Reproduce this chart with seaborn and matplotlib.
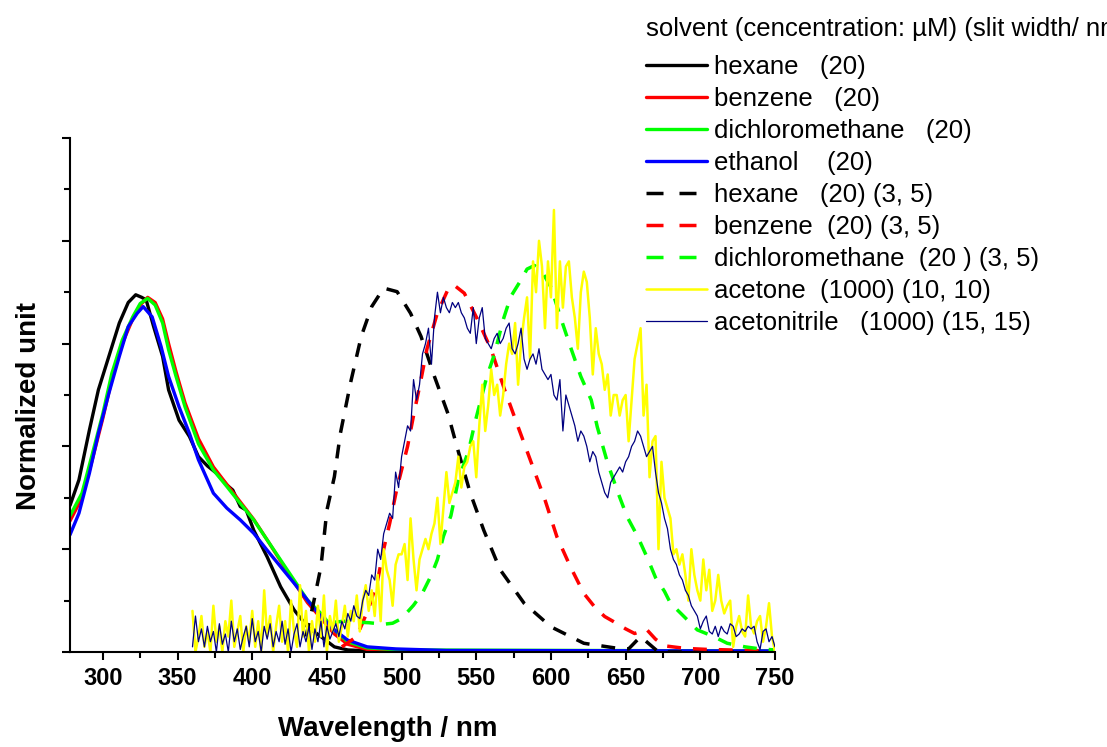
import numpy as np
import matplotlib
matplotlib.use('Agg')
import matplotlib.pyplot as plt
from matplotlib import font_manager
from matplotlib.ticker import MultipleLocator
import seaborn as sns

# excitation-like spectra (solid, thick)
hexane_x = [278, 284, 291, 297, 304, 311, 317, 322, 326, 329, 334, 340, 344, 351, 358, 364, 370, 376,
            383, 387, 392, 396, 401, 410, 419, 428, 437, 446, 455, 464, 480, 520, 750]
hexane_y = [0.285, 0.335, 0.432, 0.51, 0.575, 0.64, 0.68, 0.695, 0.69, 0.685, 0.633, 0.575, 0.51, 0.451,
            0.419, 0.38, 0.362, 0.348, 0.325, 0.315, 0.283, 0.276, 0.237, 0.185, 0.127, 0.082, 0.049,
            0.03, 0.01, 0.004, 0.002, 0.001, 0.001]

benzene_x = [278, 286, 293, 300, 306, 313, 320, 325, 330, 335, 340, 344, 349, 355, 364, 374, 383, 392,
             401, 410, 419, 428, 437, 446, 455, 464, 477, 500, 750]
benzene_y = [0.255, 0.3, 0.375, 0.455, 0.53, 0.6, 0.648, 0.675, 0.69, 0.68, 0.648, 0.6, 0.545, 0.485,
             0.415, 0.36, 0.326, 0.292, 0.258, 0.218, 0.177, 0.136, 0.096, 0.066, 0.035, 0.015, 0.005,
             0.002, 0.001]

dcm_x = [278, 286, 293, 300, 306, 313, 320, 325, 330, 335, 340, 344, 349, 355, 364, 374, 383, 392, 401,
         410, 419, 428, 437, 446, 455, 464, 477, 500, 750]
dcm_y = [0.265, 0.309, 0.386, 0.464, 0.542, 0.607, 0.652, 0.678, 0.688, 0.675, 0.64, 0.588, 0.536, 0.477,
         0.405, 0.354, 0.322, 0.289, 0.257, 0.218, 0.179, 0.14, 0.101, 0.075, 0.043, 0.02, 0.008, 0.004,
         0.002]

ethanol_x = [278, 284, 291, 297, 304, 311, 317, 323, 327, 333, 339, 344, 351, 358, 364, 374, 383, 392,
             401, 410, 419, 428, 437, 446, 455, 464, 477, 496, 530, 750]
ethanol_y = [0.228, 0.27, 0.348, 0.425, 0.503, 0.575, 0.633, 0.659, 0.672, 0.652, 0.594, 0.536, 0.477,
             0.425, 0.374, 0.309, 0.28, 0.257, 0.231, 0.198, 0.166, 0.134, 0.101, 0.069, 0.043, 0.023,
             0.01, 0.006, 0.003, 0.002]

# emission spectra (dashed)
hexane_em_x = [436, 441, 446, 450, 455, 459, 466, 473, 480, 488, 497, 506, 513, 522, 531, 537, 546, 555,
               566, 582, 600, 622, 645, 652, 660, 672, 750]
hexane_em_y = [0.03, 0.095, 0.166, 0.276, 0.341, 0.425, 0.526, 0.614, 0.672, 0.708, 0.701, 0.659, 0.614,
               0.536, 0.464, 0.4, 0.309, 0.237, 0.16, 0.095, 0.049, 0.017, 0.007, 0.006, 0.03, 0.0, 0.0]

benzene_em_x = [460, 470, 478, 484, 488, 492, 497, 504, 508, 513, 517, 524, 531, 535, 542, 551, 560, 569,
                578, 587, 596, 604, 613, 622, 630, 636, 642, 650, 656, 664, 670, 676, 690, 705, 750]
benzene_em_y = [0.01, 0.03, 0.085, 0.14, 0.2, 0.25, 0.32, 0.4, 0.46, 0.53, 0.59, 0.66, 0.705, 0.714,
                0.698, 0.646, 0.588, 0.51, 0.438, 0.367, 0.296, 0.224, 0.166, 0.114, 0.085, 0.069, 0.059,
                0.045, 0.036, 0.044, 0.025, 0.012, 0.007, 0.005, 0.002]

dcm_em_x = [455, 462, 470, 478, 488, 494, 500, 508, 514, 520, 524, 528, 533, 538, 545, 549, 553, 557, 562,
            568, 573, 580, 584, 589, 594, 600, 607, 613, 620, 627, 631, 638, 645, 651, 658, 665, 670, 676,
            680, 687, 698, 709, 718, 730, 740, 750]
dcm_em_y = [0.058, 0.06, 0.058, 0.057, 0.054, 0.056, 0.065, 0.091, 0.115, 0.15, 0.18, 0.225, 0.265, 0.335,
            0.393, 0.445, 0.49, 0.535, 0.578, 0.646, 0.691, 0.724, 0.745, 0.752, 0.74, 0.71, 0.646, 0.594,
            0.536, 0.49, 0.438, 0.367, 0.309, 0.263, 0.225, 0.18, 0.145, 0.118, 0.095, 0.075, 0.043, 0.03,
            0.017, 0.01, 0.006, 0.004]

# noisy spectra, read every 2 nm from 360 to 750
noisy_wl = np.arange(360, 751, 2)
acetone_y = [
    0.08, 0.0, 0.03, 0.07, 0.01, 0.04, 0.0, 0.09, 0.02, 0.05,
    0.0, 0.06, 0.03, 0.1, 0.01, 0.04, 0.07, 0.0, 0.05, 0.02,
    0.08, 0.01, 0.06, 0.0, 0.12, 0.03, 0.07, 0.0, 0.05, 0.09,
    0.02, 0.06, 0.0, 0.1, 0.04, 0.01, 0.13, 0.03, 0.08, 0.0,
    0.06, 0.02, 0.09, 0.03, 0.11, 0.0, 0.07, 0.04, 0.1, 0.02,
    0.05, 0.09, 0.03, 0.08, 0.06, 0.11, 0.04, 0.1, 0.13, 0.08,
    0.12, 0.07, 0.15, 0.06, 0.2, 0.16, 0.14, 0.09, 0.17, 0.19,
    0.19, 0.21, 0.14, 0.26, 0.18, 0.12, 0.18, 0.2, 0.22, 0.2,
    0.23, 0.25, 0.3, 0.21, 0.28, 0.35, 0.29, 0.31, 0.33, 0.38,
    0.32, 0.36, 0.37, 0.4, 0.41, 0.34, 0.44, 0.52, 0.43, 0.48,
    0.55, 0.5, 0.52, 0.46, 0.5, 0.56, 0.6, 0.58, 0.64, 0.52,
    0.6, 0.65, 0.69, 0.57, 0.76, 0.7, 0.8, 0.75, 0.63, 0.76,
    0.69, 0.86, 0.63, 0.76, 0.67, 0.75, 0.76, 0.69, 0.65, 0.59,
    0.7, 0.74, 0.72, 0.65, 0.54, 0.63, 0.58, 0.56, 0.51, 0.54,
    0.46, 0.5, 0.5, 0.46, 0.49, 0.5, 0.41, 0.49, 0.57, 0.6,
    0.63, 0.46, 0.52, 0.34, 0.41, 0.42, 0.2, 0.37, 0.3, 0.28,
    0.26, 0.19, 0.2, 0.17, 0.19, 0.15, 0.1, 0.2, 0.15, 0.12,
    0.1, 0.18, 0.12, 0.16, 0.08, 0.1, 0.15, 0.1, 0.075, 0.09,
    0.1, 0.01, 0.05, 0.07, 0.04, 0.03, 0.11, 0.05, 0.036, 0.06,
    0.07, 0.02, 0.05, 0.095, 0.03, 0.0,
]
acetonitrile_y = [
    0.01, 0.07, 0.02, 0.045, 0.01, 0.05, 0.02, 0.04, 0.0, 0.055,
    0.015, 0.035, 0.0, 0.06, 0.02, 0.045, 0.005, 0.03, 0.05, 0.01,
    0.065, 0.02, 0.04, 0.0, 0.05, 0.025, 0.055, 0.01, 0.04, 0.02,
    0.06, 0.015, 0.045, 0.0, 0.035, 0.055, 0.01, 0.04, 0.02, 0.05,
    0.005, 0.045, 0.02, 0.06, 0.01, 0.05, 0.025, 0.04, 0.055, 0.03,
    0.06, 0.045, 0.075, 0.06, 0.09, 0.07, 0.065, 0.1, 0.12, 0.11,
    0.15, 0.14, 0.2, 0.18, 0.23, 0.25, 0.27, 0.26, 0.35, 0.32,
    0.38, 0.41, 0.44, 0.43, 0.53, 0.49, 0.52, 0.58, 0.6, 0.63,
    0.56, 0.65, 0.7, 0.66, 0.69, 0.67, 0.66, 0.68, 0.67, 0.68,
    0.66, 0.65, 0.63, 0.62, 0.67, 0.6, 0.65, 0.67, 0.61, 0.6,
    0.59, 0.61, 0.62, 0.6, 0.61, 0.63, 0.64, 0.59, 0.58, 0.6,
    0.63, 0.57, 0.55, 0.57, 0.58, 0.56, 0.59, 0.55, 0.54, 0.53,
    0.54, 0.5, 0.49, 0.53, 0.43, 0.5, 0.48, 0.46, 0.44, 0.41,
    0.43, 0.42, 0.4, 0.37, 0.39, 0.38, 0.35, 0.33, 0.31, 0.3,
    0.33, 0.34, 0.35, 0.36, 0.35, 0.37, 0.38, 0.4, 0.41, 0.43,
    0.42, 0.4, 0.38, 0.39, 0.4, 0.35, 0.31, 0.29, 0.26, 0.24,
    0.2, 0.18, 0.17, 0.15, 0.14, 0.12, 0.11, 0.09, 0.08, 0.07,
    0.045, 0.06, 0.07, 0.04, 0.035, 0.05, 0.03, 0.05, 0.04, 0.035,
    0.055, 0.05, 0.03, 0.035, 0.045, 0.04, 0.05, 0.045, 0.05, 0.02,
    0.005, 0.04, 0.045, 0.02, 0.03, 0.01,
]

labels = ['hexane   (20)', 'benzene   (20)', 'dichloromethane   (20)', 'ethanol    (20)',
          'hexane   (20) (3, 5)', 'benzene  (20) (3, 5)', 'dichloromethane  (20 ) (3, 5)',
          'acetone  (1000) (10, 10)', 'acetonitrile   (1000) (15, 15)']
legend_title = 'solvent (cencentration: \u00b5M) (slit width/ nm)'

sns.set_style('ticks')
plt.rcParams['font.family'] = ['Liberation Sans', 'DejaVu Sans']
plt.rcParams['text.color'] = 'black'
plt.rcParams['axes.labelcolor'] = 'black'
plt.rcParams['xtick.color'] = 'black'
plt.rcParams['ytick.color'] = 'black'

names = {f.name for f in font_manager.fontManager.ttflist}
if 'Liberation Sans Narrow' in names:
    label_font, label_size = 'Liberation Sans Narrow', 24
else:
    label_font, label_size = 'Liberation Sans', 20

fig = plt.figure(figsize=(11.07, 7.47), dpi=100)
ax = fig.add_axes([70 / 1107, 95 / 747, 705 / 1107, 514 / 747])

dash = (0, (4.0, 3.45))
series = [
    (hexane_x, hexane_y, 'black', 2.4, '-'),
    (benzene_x, benzene_y, 'red', 2.4, '-'),
    (dcm_x, dcm_y, '#00ff00', 2.4, '-'),
    (ethanol_x, ethanol_y, 'blue', 2.4, '-'),
    (hexane_em_x, hexane_em_y, 'black', 2.5, dash),
    (benzene_em_x, benzene_em_y, 'red', 2.5, dash),
    (dcm_em_x, dcm_em_y, '#00ff00', 2.5, dash),
    (noisy_wl, acetone_y, '#ffff00', 1.8, '-'),
    (noisy_wl, acetonitrile_y, '#000080', 0.9, '-'),
]
for (x, y, c, lw, ls), lab in zip(series, labels):
    sns.lineplot(x=np.asarray(x), y=np.asarray(y), ax=ax, color=c, linewidth=lw,
                 linestyle=ls, label=lab, estimator=None, sort=False)

handles, labs = ax.get_legend_handles_labels()
if ax.get_legend() is not None:
    ax.get_legend().remove()

ax.set_xlim(278, 750)
ax.set_ylim(0, 1)
ax.xaxis.set_major_locator(MultipleLocator(50))
ax.xaxis.set_minor_locator(MultipleLocator(25))
ax.yaxis.set_major_locator(MultipleLocator(0.2))
ax.yaxis.set_minor_locator(MultipleLocator(0.1))
ax.tick_params(which='major', direction='out', length=6, width=1.5, colors='black',
               labelsize=17, pad=5)
ax.tick_params(which='minor', direction='out', length=4, width=1.5, colors='black')
ax.tick_params(axis='y', which='both', labelleft=False)
for t in ax.get_xticklabels():
    t.set_fontweight('bold')
for side in ['top', 'right']:
    ax.spines[side].set_visible(False)
for side in ['left', 'bottom']:
    ax.spines[side].set_linewidth(1.5)
    ax.spines[side].set_color('black')

ax.set_xlabel('Wavelength / nm', fontsize=label_size, fontweight='bold', family=label_font)
ax.set_ylabel('Normalized unit', fontsize=label_size, fontweight='bold', family=label_font)
ax.xaxis.set_label_coords((388 - 70) / 705, (652 - 716) / 514)
ax.yaxis.set_label_coords((42 - 70) / 705, (652 - 406) / 514)

leg = fig.legend(handles, labs, loc='upper left', bbox_to_anchor=(646 / 1107, 1 - 55 / 747),
                 frameon=False, fontsize=18.5, handlelength=2.37, handletextpad=0.27,
                 labelspacing=0.31, borderpad=0, borderaxespad=0)
for i, line in enumerate(leg.get_lines()):
    if 4 <= i <= 6:
        line.set_dashes((4.9, 4.6))
fig.text(646 / 1107, 1 - 29 / 747, legend_title, fontsize=18.5, ha='left', va='center')

fig.savefig('out.png', dpi=100)
